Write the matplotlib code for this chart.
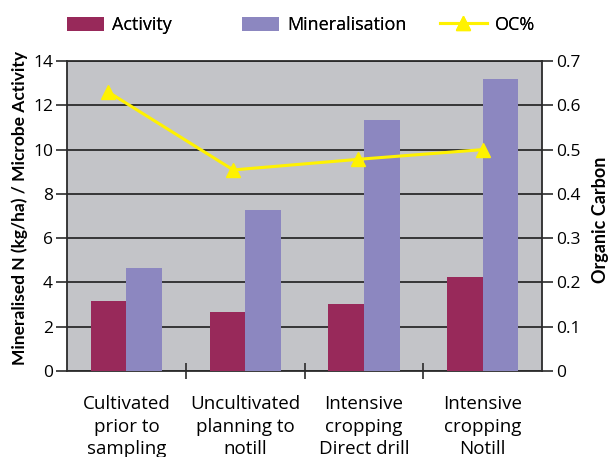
import matplotlib
matplotlib.use("Agg")
import matplotlib.pyplot as plt
import numpy as np

plt.rcParams['font.family'] = ['Open Sans', 'DejaVu Sans']

# data
categories = ["Cultivated\nprior to\nsampling",
              "Uncultivated\nplanning to\nnotill",
              "Intensive\ncropping\nDirect drill",
              "Intensive\ncropping\nNotill"]
activity = [3.17, 2.66, 3.03, 4.25]
mineralisation = [4.65, 7.27, 11.34, 13.19]
oc_pct = [0.63, 0.454, 0.478, 0.50]

ACT_COL = "#98295a"
MIN_COL = "#8c87c0"
OC_COL = "#fff200"
BG = "#c3c4c8"
DARK = "#2b2b2b"

fig = plt.figure(figsize=(6.11, 4.57), dpi=100)
pos = [67 / 611, 1 - 371 / 457, (542 - 67) / 611, (371 - 61) / 457]
ax = fig.add_axes(pos)
ax.set_facecolor(BG)

x = np.arange(len(categories))
w = 0.3
b1 = ax.bar(x - w / 2, activity, w, color=ACT_COL, zorder=3, label="Activity")
b2 = ax.bar(x + w / 2, mineralisation, w, color=MIN_COL, zorder=3, label="Mineralisation")

ax.set_xlim(-0.5, len(categories) - 0.5)
ax.set_ylim(0, 14)
ax.set_yticks(np.arange(0, 15, 2))
ax.yaxis.grid(True, color=DARK, linewidth=1.3, zorder=1)
ax.set_axisbelow(True)

# category ticks sit between groups, labels at group centres
ax.set_xticks(x[:-1] + 0.5)
ax.set_xticklabels([])
ax.set_xticks(x, minor=True)
ax.set_xticklabels(categories, minor=True, fontsize=13.5, linespacing=1.35)
ax.tick_params(axis="x", which="minor", length=0, pad=17)
ax.tick_params(axis="x", which="major", length=12, width=1.2, color=DARK, direction="inout")
ax.tick_params(axis="y", length=8, width=1.2, color=DARK, labelsize=12.5, pad=2)

for s in ax.spines.values():
    s.set_color(DARK)
    s.set_linewidth(1.3)

ax.set_ylabel("Mineralised N (kg/ha) / Microbe Activity", fontsize=12.5,
              fontweight="bold", family="Lato")
ax.yaxis.set_label_coords(-0.082, 0.526)

# line is drawn on its own overlay axes, spaced slightly wider than the bars
ax2 = fig.add_axes(pos, frameon=False)
ax2.set_xlim(-0.33, 3.47)
ax2.set_ylim(0, 0.7)
ln, = ax2.plot(np.arange(len(oc_pct)), oc_pct, color=OC_COL, linewidth=2.2,
               marker="^", markersize=10, zorder=5, label="OC%")
ax2.set_xticks([])
ax2.yaxis.tick_right()
ax2.yaxis.set_label_position("right")
ax2.set_yticks(np.arange(0, 0.71, 0.1))
ax2.set_yticklabels(["0", "0.1", "0.2", "0.3", "0.4", "0.5", "0.6", "0.7"])
ax2.tick_params(axis="y", length=8, width=1.2, color=DARK, labelsize=12.5, pad=2)
ax2.set_ylabel("Organic Carbon", fontsize=13, fontweight="bold", family="Lato")
ax2.yaxis.set_label_coords(1.105, 0.487)

# three separate legend entries, placed like the original
leg_y = 1 - 25 / 457
for h, lab, lx, hl in [(b1, "Activity", 67, 2.05),
                       (b2, "Mineralisation", 242, 2.05),
                       (ln, "OC%", 440, 2.6)]:
    lg = fig.legend([h], [lab], loc="center left", bbox_to_anchor=(lx / 611, leg_y),
                    bbox_transform=fig.transFigure, frameon=False, fontsize=13,
                    handlelength=hl, handleheight=0.83, handletextpad=0.45,
                    borderpad=0, borderaxespad=0)
    fig.add_artist(lg)

fig.savefig("out.png", dpi=100)
